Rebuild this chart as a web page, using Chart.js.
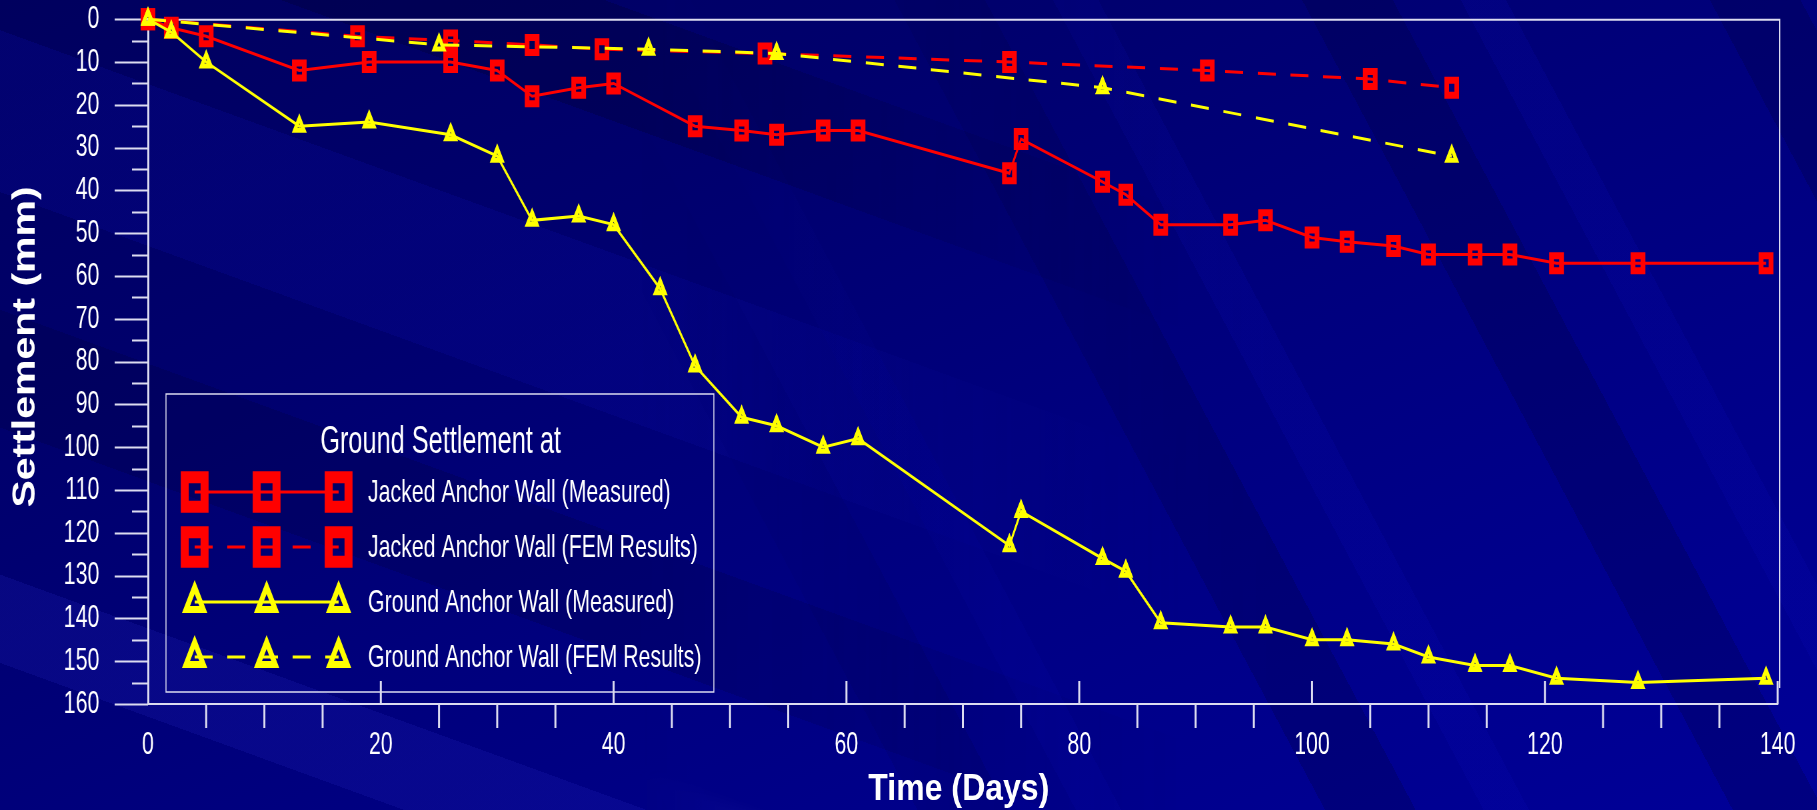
<!DOCTYPE html>
<html>
<head>
<meta charset="utf-8">
<title>Ground Settlement</title>
<script src="https://cdn.jsdelivr.net/npm/chart.js@4.4.1/dist/chart.umd.min.js"></script>
<style>
  html, body { margin: 0; padding: 0; overflow: hidden; }
  body {
    position: relative;
    width: 1817px;
    height: 810px;
    background: linear-gradient(155deg, #00005e 0%, #00006e 30%, #00007e 55%, #00008c 78%, #000098 100%);
  }
  /* slide streaks: shallow ones on the left, steep ones on the right */
  body::before, body::after {
    content: "";
    position: absolute;
    inset: 0;
  }
  body::before {
    background:
      linear-gradient(200deg, transparent 0 30%, rgba(0,0,40,0.25) 30% 38%, transparent 38% 47%,
                      rgba(10,10,160,0.25) 47% 58%, transparent 58% 66%, rgba(0,0,50,0.2) 66% 74%,
                      transparent 74% 84%, rgba(30,30,180,0.25) 84% 90%, transparent 90%);
    -webkit-mask-image: linear-gradient(to right, black 0%, black 35%, transparent 65%);
    mask-image: linear-gradient(to right, black 0%, black 35%, transparent 65%);
  }
  body::after {
    background:
      repeating-linear-gradient(62deg, transparent 0 90px, rgba(0,0,50,0.22) 90px 170px,
                                transparent 170px 230px, rgba(10,10,190,0.16) 230px 270px,
                                transparent 270px 360px),
      linear-gradient(200deg, transparent 0 81%, rgba(80,80,210,0.35) 82% 84%, transparent 85%);
    -webkit-mask-image: linear-gradient(to right, transparent 35%, black 70%);
    mask-image: linear-gradient(to right, transparent 35%, black 70%);
  }
  #chart {
    position: absolute;
    left: 0;
    top: 0;
    z-index: 1;
  }
</style>
</head>
<body>
<!-- drawn 1.5x wider and squeezed back by CSS: the figure's text and markers are tall -->
<canvas id="chart" width="2726" height="810" style="width:1817px;height:810px"></canvas>
<script>
// Jacked anchor wall, field readings
const jackedMeasDays = [0, 2, 5, 13, 19, 26, 30, 33, 37, 40, 47, 51, 54, 58, 61, 74, 75, 82, 84, 87, 93, 96, 100, 103, 107, 110, 114, 117, 121, 128, 139];
const jackedMeasMm   = [0, 2, 4, 12, 10, 10, 12, 18, 16, 15, 25, 26, 27, 26, 26, 36, 28, 38, 41, 48, 48, 47, 51, 52, 53, 55, 55, 55, 57, 57, 57];

// Jacked anchor wall, FEM
const jackedFemDays = [0, 18, 26, 33, 39, 53, 74, 91, 105, 112];
const jackedFemMm   = [0, 4, 5, 6, 7, 8, 10, 12, 14, 16];

// Ground anchor wall, field readings
const groundMeasDays = [0, 2, 5, 13, 19, 26, 30, 33, 37, 40, 44, 47, 51, 54, 58, 61, 74, 75, 82, 84, 87, 93, 96, 100, 103, 107, 110, 114, 117, 121, 128, 139];
const groundMeasMm   = [0, 3, 10, 25, 24, 27, 32, 47, 46, 48, 63, 81, 93, 95, 100, 98, 123, 115, 126, 129, 141, 142, 142, 145, 145, 146, 149, 151, 151, 154, 155, 154];

// Ground anchor wall, FEM
const groundFemDays = [0, 25, 43, 54, 82, 112];
const groundFemMm   = [0, 6, 7, 8, 16, 32];

const seriesLabels = [
  'Jacked Anchor Wall (Measured)',
  'Jacked Anchor Wall (FEM Results)',
  'Ground Anchor Wall (Measured)',
  'Ground Anchor Wall (FEM Results)'
];
const legendTitle = 'Ground Settlement at';
const xTitle = 'Time (Days)';
const yTitle = 'Settlement (mm)';

const xTicks = [0, 20, 40, 60, 80, 100, 120, 140];
const yTicks = [0, 10, 20, 30, 40, 50, 60, 70, 80, 90, 100, 110, 120, 130, 140, 150, 160];

const FONT = '"Liberation Sans", Arial, Helvetica, sans-serif';
const RED = '#ff0000';
const YELLOW = '#ffff00';
const AXIS = '#dcdcf0';
const DASH = [27, 22];

const zip = (xs, ys) => xs.map((x, i) => ({ x: x, y: ys[i] }));

function series(i, xs, ys, color, dashed, style, order) {
  const square = style === 'rect';
  const r = square ? 10.6 : 8;
  return {
    label: seriesLabels[i],
    data: zip(xs, ys),
    borderColor: color,
    borderWidth: 3,
    borderDash: dashed ? DASH : [],
    pointStyle: style,
    pointRadius: r,
    pointHoverRadius: r,
    pointBorderWidth: square ? 7 : 5,
    pointBorderColor: color,
    pointBackgroundColor: 'rgba(0,0,0,0)',
    fill: false,
    tension: 0,
    clip: false,
    order: order
  };
}

// tick marks: y long every 10 / short every 5 to the left,
// x major every 20 pointing up, minor every 5 pointing down
const tickMarks = {
  id: 'tickMarks',
  beforeDatasetsDraw(chart) {
    const { ctx, chartArea: ca, scales: { x, y } } = chart;
    ctx.save();
    ctx.strokeStyle = AXIS;
    ctx.lineWidth = 2;
    for (let v = 0; v <= 160; v += 5) {
      const py = Math.round(y.getPixelForValue(v)) + 0.5;
      const len = v % 10 === 0 ? 50 : 24;
      ctx.beginPath();
      ctx.moveTo(ca.left - len, py);
      ctx.lineTo(ca.left, py);
      ctx.stroke();
    }
    ctx.lineWidth = 3;
    for (let v = 5; v <= 140; v += 5) {
      const px = x.getPixelForValue(v);
      ctx.beginPath();
      if (v % 20 === 0) {
        ctx.moveTo(px, ca.bottom - 23);
        ctx.lineTo(px, ca.bottom);
      } else {
        ctx.moveTo(px, ca.bottom);
        ctx.lineTo(px, ca.bottom + 24);
      }
      ctx.stroke();
    }
    // frame: top edge and right edge
    ctx.lineWidth = 2;
    ctx.beginPath();
    ctx.moveTo(ca.left, ca.top + 0.5);
    ctx.lineTo(ca.right + 3, ca.top + 0.5);
    ctx.lineTo(ca.right + 3, ca.bottom - 16);
    ctx.stroke();
    ctx.restore();
  }
};

// boxed legend, three markers per entry like the spreadsheet original
const boxLegend = {
  id: 'boxLegend',
  afterDatasetsDraw(chart) {
    const ctx = chart.ctx;
    const box = { left: 249, top: 394, right: 1071, bottom: 692 };
    const rows = [492, 547, 602, 657];
    const marks = [292, 400, 508];
    ctx.save();
    ctx.strokeStyle = AXIS;
    ctx.lineWidth = 1.5;
    ctx.strokeRect(box.left, box.top, box.right - box.left, box.bottom - box.top);

    ctx.fillStyle = '#fff';
    ctx.textAlign = 'center';
    ctx.textBaseline = 'middle';
    ctx.font = '38px ' + FONT;
    ctx.fillText(legendTitle, 661, 443);

    chart.data.datasets.forEach((ds, i) => {
      const yy = rows[i];
      ctx.strokeStyle = ds.borderColor;
      ctx.lineWidth = ds.borderWidth;
      ctx.setLineDash(ds.borderDash);
      ctx.beginPath();
      ctx.moveTo(marks[0], yy);
      ctx.lineTo(marks[2], yy);
      ctx.stroke();
      ctx.setLineDash([]);

      const square = ds.pointStyle === 'rect';
      const opts = {
        pointStyle: ds.pointStyle,
        radius: square ? 21 : 15,
        borderWidth: square ? 12 : 7,
        rotation: 0
      };
      ctx.fillStyle = 'rgba(0,0,0,0)';
      ctx.lineWidth = opts.borderWidth;
      marks.forEach(mx => Chart.helpers.drawPoint(ctx, opts, mx, yy));

      ctx.fillStyle = '#fff';
      ctx.textAlign = 'left';
      ctx.font = '32px ' + FONT;
      ctx.fillText(ds.label, 552, yy + 1);
    });
    ctx.restore();
  }
};

// axis titles, set a little wider than the squeezed canvas text
const axisTitles = {
  id: 'axisTitles',
  afterDraw(chart) {
    const { ctx, chartArea: ca } = chart;
    ctx.save();
    ctx.fillStyle = '#fff';
    ctx.textAlign = 'center';
    ctx.textBaseline = 'middle';

    ctx.save();
    ctx.font = 'bold 37px ' + FONT;
    ctx.translate((ca.left + ca.right) / 2 - 6, 790);
    ctx.scale(1.3, 1);
    ctx.fillText(xTitle, 0, 0);
    ctx.restore();

    ctx.save();
    ctx.font = 'bold 41px ' + FONT;
    ctx.translate(39, 347);
    ctx.scale(1.15, 1);
    ctx.rotate(-Math.PI / 2);
    ctx.fillText(yTitle, 0, 0);
    ctx.restore();

    ctx.restore();
  }
};

const tickFont = { family: FONT, size: 32, lineHeight: 1.2 };

new Chart(document.getElementById('chart'), {
  type: 'line',
  data: {
    datasets: [
      series(0, jackedMeasDays, jackedMeasMm, RED, false, 'rect', 3),
      series(1, jackedFemDays, jackedFemMm, RED, true, 'rect', 2),
      series(2, groundMeasDays, groundMeasMm, YELLOW, false, 'triangle', 1),
      series(3, groundFemDays, groundFemMm, YELLOW, true, 'triangle', 0)
    ]
  },
  options: {
    responsive: false,
    animation: false,
    devicePixelRatio: 1,
    events: [],
    layout: { padding: { top: 19, right: 59, bottom: 0, left: 0 } },
    plugins: {
      legend: { display: false },
      tooltip: { enabled: false }
    },
    scales: {
      x: {
        type: 'linear',
        min: 0,
        max: 140,
        afterBuildTicks: s => { s.ticks = xTicks.map(v => ({ value: v })); },
        afterFit: s => { s.height = 106; },
        grid: { display: false, drawTicks: false },
        border: { display: true, color: AXIS, width: 2 },
        ticks: { color: '#fff', font: tickFont, padding: 22, maxRotation: 0, autoSkip: false }
      },
      y: {
        type: 'linear',
        reverse: true,
        min: 0,
        max: 160,
        afterBuildTicks: s => { s.ticks = yTicks.map(v => ({ value: v })); },
        afterFit: s => { s.width = 222; },
        // tick marks come from the plugin; the hidden tick length only pushes the labels out
        grid: { display: false, drawTicks: true, tickLength: 73 },
        border: { display: true, color: AXIS, width: 3 },
        ticks: { color: '#fff', font: tickFont, padding: 0, autoSkip: false }
      }
    }
  },
  plugins: [tickMarks, boxLegend, axisTitles]
});
</script>
</body>
</html>
